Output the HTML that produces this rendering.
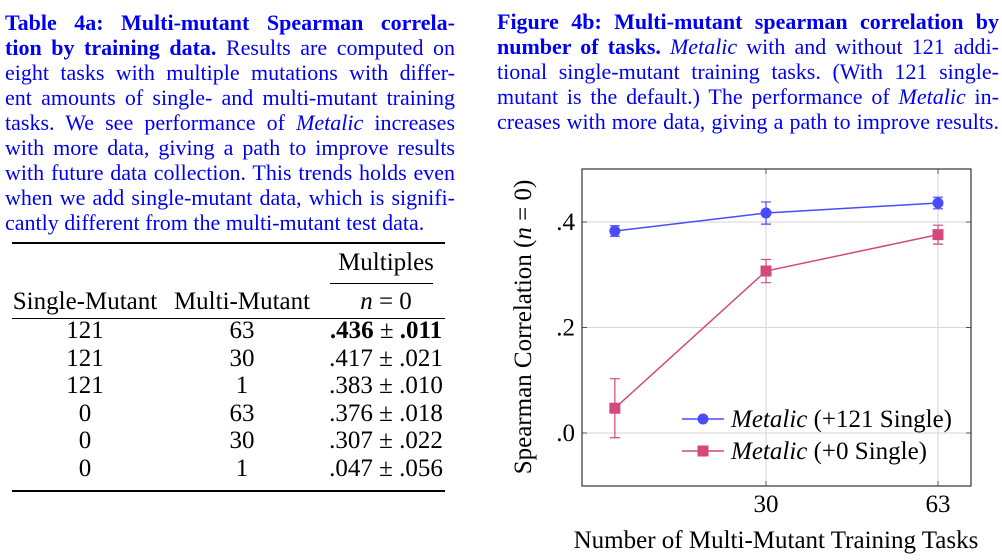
<!DOCTYPE html>
<html><head><meta charset="utf-8"><style>
body{margin:0;width:1002px;height:560px;background:#fff;position:relative;overflow:hidden;font-family:"Liberation Serif",serif;}
.l{position:absolute;font-size:22px;line-height:25px;color:#0000f0;text-align:justify;text-align-last:justify;white-space:nowrap;}
.l.last{text-align-last:left}
.c{position:absolute;font-size:25px;line-height:25px;color:#000;text-align:center;transform:translateX(-50%);white-space:nowrap}
.rule{position:absolute;background:#000}
</style></head><body>
<div>
<div class="l" style="left:5px;top:10px;width:450px"><b>Table 4a: Multi-mutant Spearman correla-</b></div>
<div class="l" style="left:5px;top:35px;width:450px"><b>tion by training data.</b> Results are computed on</div>
<div class="l" style="left:5px;top:60px;width:450px">eight tasks with multiple mutations with differ-</div>
<div class="l" style="left:5px;top:85px;width:450px">ent amounts of single- and multi-mutant training</div>
<div class="l" style="left:5px;top:110px;width:450px">tasks. We see performance of <i>Metalic</i> increases</div>
<div class="l" style="left:5px;top:135px;width:450px">with more data, giving a path to improve results</div>
<div class="l" style="left:5px;top:160px;width:450px">with future data collection. This trends holds even</div>
<div class="l" style="left:5px;top:185px;width:450px">when we add single-mutant data, which is signifi-</div>
<div class="l last" style="left:5px;top:210px;width:450px">cantly different from the multi-mutant test data.</div>
</div>
<div>
<div class="rule" style="left:12px;top:242px;width:433px;height:2px"></div>
<div class="c" style="left:386px;top:250px">Multiples</div>
<div class="rule" style="left:330px;top:283px;width:103px;height:1px"></div>
<div class="c" style="left:85px;top:289px">Single-Mutant</div>
<div class="c" style="left:242px;top:289px">Multi-Mutant</div>
<div class="c" style="left:386px;top:289px"><i>n</i> = 0</div>
<div class="rule" style="left:12px;top:318px;width:433px;height:1px"></div>
<div class="c" style="left:85px;top:318px">121</div><div class="c" style="left:242px;top:318px">63</div><div class="c" style="left:386px;top:318px"><b>.436</b> ± <b>.011</b></div>
<div class="c" style="left:85px;top:346px">121</div><div class="c" style="left:242px;top:346px">30</div><div class="c" style="left:386px;top:346px">.417 ± .021</div>
<div class="c" style="left:85px;top:373px">121</div><div class="c" style="left:242px;top:373px">1</div><div class="c" style="left:386px;top:373px">.383 ± .010</div>
<div class="c" style="left:85px;top:401px">0</div><div class="c" style="left:242px;top:401px">63</div><div class="c" style="left:386px;top:401px">.376 ± .018</div>
<div class="c" style="left:85px;top:428px">0</div><div class="c" style="left:242px;top:428px">30</div><div class="c" style="left:386px;top:428px">.307 ± .022</div>
<div class="c" style="left:85px;top:456px">0</div><div class="c" style="left:242px;top:456px">1</div><div class="c" style="left:386px;top:456px">.047 ± .056</div>
<div class="rule" style="left:12px;top:490px;width:433px;height:2px"></div>
</div>
<div>
<div class="l" style="left:497px;top:9px;width:502px"><b>Figure 4b: Multi-mutant spearman correlation by</b></div>
<div class="l" style="left:497px;top:34px;width:502px"><b>number of tasks.</b> <i>Metalic</i> with and without 121 addi-</div>
<div class="l" style="left:497px;top:59px;width:502px">tional single-mutant training tasks. (With 121 single-</div>
<div class="l" style="left:497px;top:84px;width:502px">mutant is the default.) The performance of <i>Metalic</i> in-</div>
<div class="l" style="left:497px;top:109px;width:502px">creases with more data, giving a path to improve results.</div>
</div>
<svg id="chart" width="1002" height="560" style="position:absolute;left:0;top:0" font-family="Liberation Serif, serif"></svg>
<script>
const xCats=[1,30,63];
const xTickLabels=["30","63"];
const xTickVals=[30,63];
const yTickVals=[0,0.2,0.4];
const yTickLabels=[".0",".2",".4"];
const withSingle=[0.383,0.417,0.436];
const withSingleErr=[0.010,0.021,0.011];
const noSingle=[0.047,0.307,0.376];
const noSingleErr=[0.056,0.022,0.018];
const L=582,R=971,T=169,B=486;
const x=v=>766+(v-30)*(938-766)/33;
const y=v=>433-(v)*527.5;
const svg=document.getElementById('chart');
const NS='http://www.w3.org/2000/svg';
function mk(t,a,p){const e=document.createElementNS(NS,t);for(const k in a)e.setAttribute(k,a[k]);(p||svg).appendChild(e);return e;}
let e;
yTickVals.forEach((v,i)=>{
 e=mk('line',{x1:L,x2:R,y1:y(v),y2:y(v),stroke:'#d6d6d6','stroke-width':1});
 
 
 mk('line',{x1:L,x2:L+5,y1:y(v),y2:y(v),stroke:'#555'});mk('line',{x1:R-5,x2:R,y1:y(v),y2:y(v),stroke:'#555'});
 e=mk('text',{x:L-7,y:y(v)+8,'text-anchor':'end','font-size':25});e.textContent=yTickLabels[i];
 
 
});
xTickVals.forEach((v,i)=>{
 e=mk('line',{x1:x(v),x2:x(v),y1:T,y2:B,stroke:'#d6d6d6','stroke-width':1});
 
 
 mk('line',{x1:x(v),x2:x(v),y1:B-5,y2:B,stroke:'#555'});mk('line',{x1:x(v),x2:x(v),y1:T,y2:T+5,stroke:'#555'});
 e=mk('text',{x:x(v),y:512,'text-anchor':'middle','font-size':25});e.textContent=xTickLabels[i];
 
 
});
e=mk('rect',{x:L,y:T,width:R-L,height:B-T,fill:'none',stroke:'#333','stroke-width':1.2});


function series(vals,errs,col,shape,name){
 const pts=vals.map((v,i)=>x(xCats[i])+','+y(v)).join(' ');
 e=mk('polyline',{points:pts,fill:'none',stroke:col,'stroke-width':1.5});
 
 
 vals.forEach((v,i)=>{
  const cx=x(xCats[i]),y1=y(v+errs[i]),y2=y(v-errs[i]);
  e=mk('path',{d:`M${cx},${y1}V${y2}M${cx-5},${y1}H${cx+5}M${cx-5},${y2}H${cx+5}`,stroke:col,'stroke-width':1.2,fill:'none'});
  
  
  if(shape==='c')e=mk('circle',{cx:cx,cy:y(v),r:5.5,fill:col});
  else e=mk('rect',{x:cx-5.5,y:y(v)-5.5,width:11,height:11,fill:col});
  
  
 });
}
series(withSingle,withSingleErr,'#4a4aff','c','with-single');
series(noSingle,noSingleErr,'#d4487a','s','no-single');
[['#4a4aff','c','(+121 Single)',419],['#d4487a','s','(+0 Single)',451]].forEach(([col,sh,lab,ly])=>{
 mk('line',{x1:682,x2:724,y1:ly,y2:ly,stroke:col,'stroke-width':1.5});
 if(sh==='c')mk('circle',{cx:703,cy:ly,r:5.5,fill:col});else mk('rect',{x:697.5,y:ly-5.5,width:11,height:11,fill:col});
 e=mk('text',{x:731,y:ly+8,'font-size':25});
 e.innerHTML='<tspan font-style="italic">Metalic</tspan> '+lab;
 
 
});
e=mk('text',{x:776,y:548,'text-anchor':'middle','font-size':25});e.textContent='Number of Multi-Mutant Training Tasks';


e=mk('text',{x:0,y:0,'text-anchor':'middle','font-size':25,transform:'translate(531,327) rotate(-90)'});
e.innerHTML='Spearman Correlation (<tspan font-style="italic">n</tspan> = 0)';


</script>
</body></html>
